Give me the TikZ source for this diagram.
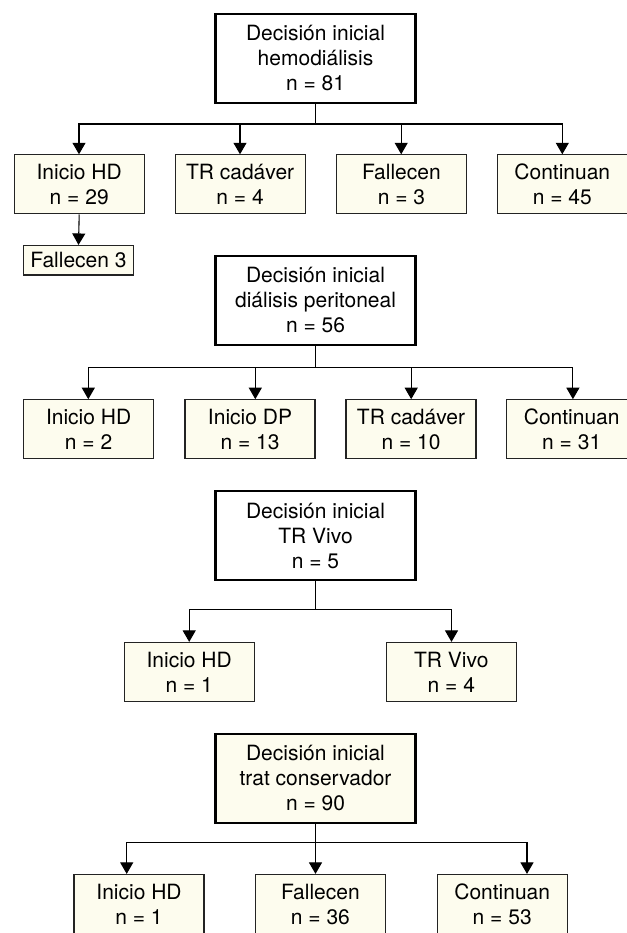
\documentclass[tikz,border=0pt]{standalone}
\usepackage{fontspec}
\setmainfont{TeX Gyre Heros}
\usetikzlibrary{arrows.meta}
\definecolor{cream}{RGB}{253,252,238}
\definecolor{edge}{RGB}{35,35,35}
\begin{document}
\begin{tikzpicture}[x=1pt,y=-1pt,
  every node/.style={font=\fontsize{21}{25}\selectfont, align=center, inner sep=0pt},
  headbox/.style={draw=black, line width=2.2pt, fill=white, minimum width=200pt, minimum height=89pt},
  headcream/.style={headbox, fill=cream},
  childbox/.style={draw=edge, line width=1.2pt, fill=cream, minimum width=130pt, minimum height=59pt},
  smallbox/.style={draw=edge, line width=1.2pt, fill=cream, minimum width=110.5pt, minimum height=29.5pt},
  conn/.style={draw=black, line width=1.1pt},
  arr/.style={conn, -{Triangle[width=13pt,length=11.5pt]}}]
\useasboundingbox (0,0) rectangle (626,933);
\fill[white] (0,0) rectangle (626,933);

% ---------- Tree 1 ----------
\node[headbox] (h1) at (315.5,58.4) {Decisión inicial\\hemodiálisis\\n = 81};
\node[childbox] (c11) at (79.2,184.4) {Inicio HD\\n = 29};
\node[childbox] (c12) at (240.1,184.4) {TR cadáver\\n = 4};
\node[childbox] (c13) at (401.4,184.4) {Fallecen\\n = 3};
\node[childbox] (c14) at (562.3,184.4) {Continuan\\n = 45};
\node[smallbox] (f1) at (78.5,260.3) {Fallecen 3};
\coordinate (j11) at (79,124);
\coordinate (j12) at (240,124);
\coordinate (j13) at (401.2,124);
\coordinate (j14) at (562.3,124);
\draw[arr] (h1.south) |- (j11) -- (j11 |- c11.north);
\draw[arr] (h1.south) |- (j12) -- (j12 |- c12.north);
\draw[arr] (h1.south) |- (j13) -- (j13 |- c13.north);
\draw[arr] (h1.south) |- (j14) -- (j14 |- c14.north);
\draw[arr] (c11.south) -- (f1.north);

% ---------- Tree 2 ----------
\node[headbox] (h2) at (315.5,300.3) {Decisión inicial\\diálisis peritoneal\\n = 56};
\node[childbox] (c21) at (88.6,429.3) {Inicio HD\\n = 2};
\node[childbox] (c22) at (250,429.3) {Inicio DP\\n = 13};
\node[childbox] (c23) at (411,429.3) {TR cadáver\\n = 10};
\node[childbox] (c24) at (571.7,429.3) {Continuan\\n = 31};
\coordinate (j21) at (88.3,367.5);
\coordinate (j22) at (255.3,367.5);
\coordinate (j23) at (411.2,367.5);
\coordinate (j24) at (572.9,367.5);
\draw[arr] (h2.south) |- (j21) -- (j21 |- c21.north);
\draw[arr] (h2.south) |- (j22) -- (j22 |- c22.north);
\draw[arr] (h2.south) |- (j23) -- (j23 |- c23.north);
\draw[arr] (h2.south) |- (j24) -- (j24 |- c24.north);

% ---------- Tree 3 ----------
\node[headbox] (h3) at (315.5,535.5) {Decisión inicial\\TR Vivo\\n = 5};
\node[childbox] (c31) at (189.2,672) {Inicio HD\\n = 1};
\node[childbox] (c32) at (451.3,672) {TR Vivo\\n = 4};
\coordinate (j31) at (189.2,609.3);
\coordinate (j32) at (451.5,609.3);
\draw[arr] (h3.south) |- (j31) -- (j31 |- c31.north);
\draw[arr] (h3.south) |- (j32) -- (j32 |- c32.north);

% ---------- Tree 4 ----------
\node[headcream] (h4) at (315.5,778.3) {Decisión inicial\\trat conservador\\n = 90};
\node[childbox] (c41) at (139,904) {Inicio HD\\n = 1};
\node[childbox] (c42) at (320.4,904) {Fallecen\\n = 36};
\node[childbox] (c43) at (502.2,904) {Continuan\\n = 53};
\coordinate (j41) at (126.7,842.7);
\coordinate (j42) at (315.5,842.7);
\coordinate (j43) at (527,842.7);
\draw[arr] (h4.south) |- (j41) -- (j41 |- c41.north);
\draw[arr] (h4.south) -- (j42) -- (j42 |- c42.north);
\draw[arr] (h4.south) |- (j43) -- (j43 |- c43.north);
\end{tikzpicture}
\end{document}
